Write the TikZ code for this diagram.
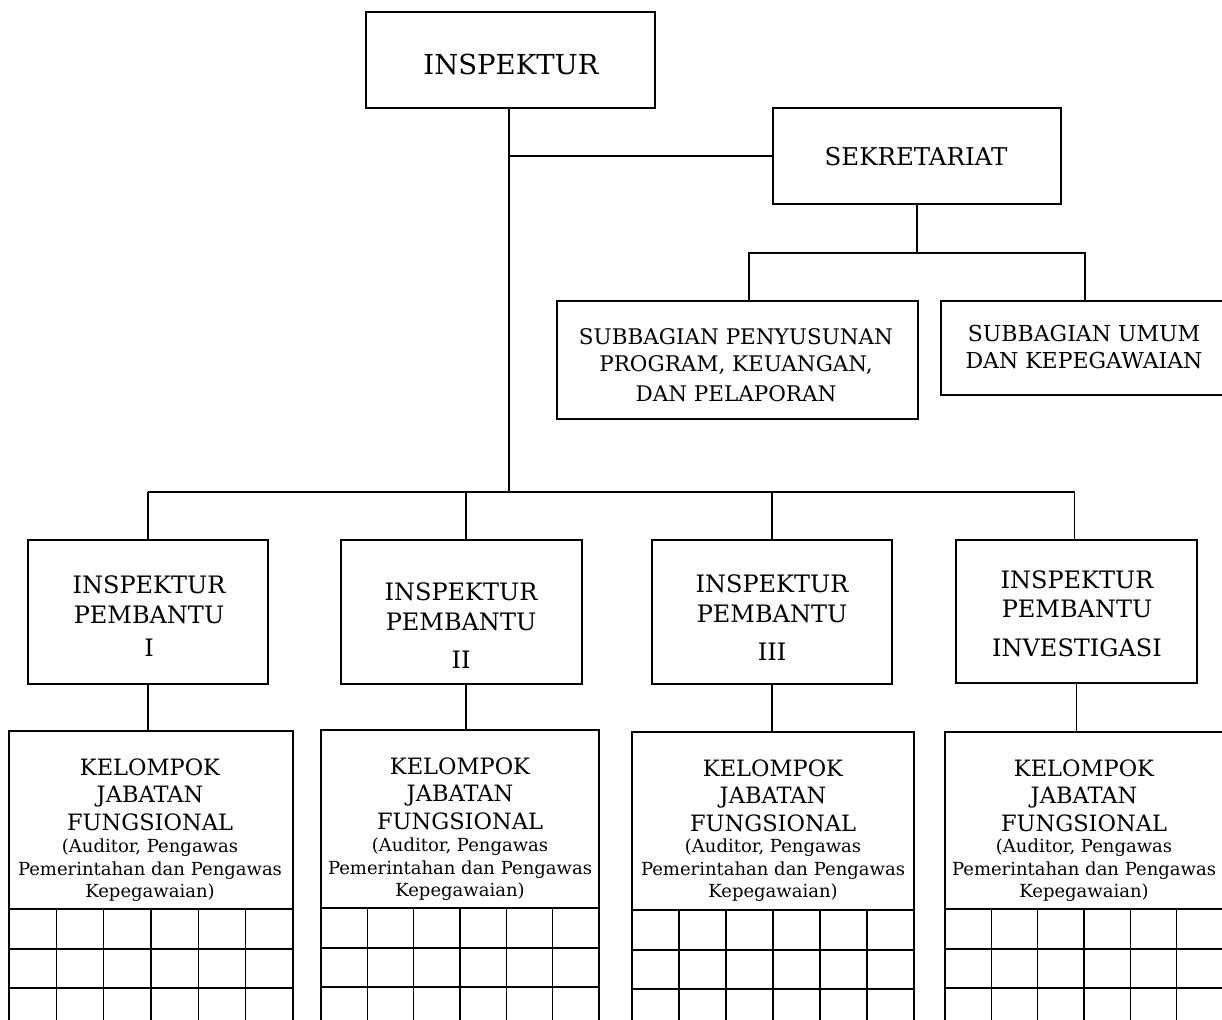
\documentclass[tikz,border=0pt]{standalone}
\usepackage{fontspec}
\setmainfont{DejaVu Serif}
\usetikzlibrary{calc}
\begin{document}
\begin{tikzpicture}[x=1pt,y=-1pt,
  box/.style={draw, line width=1.6pt, rectangle, inner sep=0pt, outer sep=0pt, anchor=north west},
  lbl/.style={inner sep=0pt, outer sep=0pt, anchor=north, align=center},
  conn/.style={line width=1.6pt},
  bigfont/.style={font=\fontsize{24}{30}\selectfont},
  kbig/.style={font=\fontsize{22.5}{27.5}\selectfont},
  ksmall/.style={font=\fontsize{18}{22.5}\selectfont}]
\path[use as bounding box] (0,0) rectangle (1222,1019);
\clip (0,0) rectangle (1222,1019);

% boxes
\node[box, minimum width=289pt, minimum height=96pt] (insp) at (366,12) {};
\node[box, minimum width=288pt, minimum height=96pt] (sek) at (773,108) {};
\node[box, minimum width=361pt, minimum height=118pt] (sub1) at (557,301) {};
\node[box, minimum width=300pt, minimum height=94pt] (sub2) at (941,301) {};
\node[box, minimum width=240pt, minimum height=144pt] (ip1) at (28,540) {};
\node[box, minimum width=241pt, minimum height=144pt] (ip2) at (341,540) {};
\node[box, minimum width=240pt, minimum height=144pt] (ip3) at (652,540) {};
\node[box, minimum width=241pt, minimum height=143pt] (ip4) at (956,540) {};
\node[box, minimum width=284pt, minimum height=178pt] (k1) at (9,731) {};
\node[box, minimum width=278pt, minimum height=178pt] (k2) at (321,730) {};
\node[box, minimum width=282pt, minimum height=178pt] (k3) at (632,732) {};
\node[box, minimum width=278pt, minimum height=177pt] (k4) at (945,732) {};

% texts
\node[lbl, font=\fontsize{27.5}{34}\selectfont] (inspt) at (511,53.6) {INSPEKTUR};
\node[lbl, font=\fontsize{24.5}{30}\selectfont] (sekt) at (916,147.8) {SEKRETARIAT};
\node[lbl, font=\fontsize{21.5}{26.5}\selectfont] (sub1t) at (736,329) {SUBBAGIAN PENYUSUNAN\\PROGRAM, KEUANGAN,\\[3.5pt]DAN PELAPORAN};
\node[lbl, font=\fontsize{22}{27}\selectfont] (sub2t) at (1084,324.7) {SUBBAGIAN UMUM\\DAN KEPEGAWAIAN};

\node[lbl, bigfont] (ip1t) at (149,575.2) {INSPEKTUR\\PEMBANTU\\[3pt]I};
\node[lbl, bigfont] (ip2t) at (461,582.2) {INSPEKTUR\\PEMBANTU\\[8pt]II};
\node[lbl, bigfont] (ip3t) at (772,574.2) {INSPEKTUR\\PEMBANTU\\[8pt]III};
\node[lbl, bigfont] (ip4t) at (1077,570.2) {INSPEKTUR\\[-1pt]PEMBANTU\\[9pt]INVESTIGASI};

\node[lbl, kbig] (k1a) at (150,758.5) {KELOMPOK\\JABATAN\\FUNGSIONAL};
\node[lbl, ksmall] (k1b) at (150,839) {(Auditor, Pengawas\\Pemerintahan dan Pengawas\\Kepegawaian)};
\node[lbl, kbig] (k2a) at (460,757.5) {KELOMPOK\\JABATAN\\FUNGSIONAL};
\node[lbl, ksmall] (k2b) at (460,838) {(Auditor, Pengawas\\Pemerintahan dan Pengawas\\Kepegawaian)};
\node[lbl, kbig] (k3a) at (773,759.5) {KELOMPOK\\JABATAN\\FUNGSIONAL};
\node[lbl, ksmall] (k3b) at (773,839) {(Auditor, Pengawas\\Pemerintahan dan Pengawas\\Kepegawaian)};
\node[lbl, kbig] (k4a) at (1084,759.5) {KELOMPOK\\JABATAN\\FUNGSIONAL};
\node[lbl, ksmall] (k4b) at (1084,839) {(Auditor, Pengawas\\Pemerintahan dan Pengawas\\Kepegawaian)};

% connectors
\coordinate (hb) at (0,492);
\coordinate (sb) at (0,253);
\draw[conn] ([xshift=-1.5pt]insp.south) -- ([xshift=-1.5pt]insp.south |- hb);
\draw[conn] ([xshift=-1.5pt]insp.south |- sek.west) -- (sek.west);
\draw[conn] (ip1.north |- hb) -- ([xshift=-2pt]ip4.north |- hb);
\draw[conn] (ip1.north |- hb) -- (ip1.north);
\draw[conn] ([xshift=4.5pt]ip2.north |- hb) -- ([xshift=4.5pt]ip2.north);
\draw[conn] (ip3.north |- hb) -- (ip3.north);
\draw[conn] ([xshift=-2pt]ip4.north |- hb) -- ([xshift=-2pt]ip4.north);
\draw[conn] (ip1.south) -- (ip1.south |- k1.north);
\draw[conn] ([xshift=4.5pt]ip2.south) -- ([xshift=4.5pt]ip2.south |- k2.north);
\draw[conn] (ip3.south) -- (ip3.south |- k3.north);
\draw[conn] (ip4.south) -- (ip4.south |- k4.north);
\draw[conn] (sek.south) -- (sek.south |- sb);
\draw[conn] ([xshift=11.5pt]sub1.north) -- ([xshift=11.5pt]sub1.north |- sb) -- ([xshift=-6pt]sub2.north |- sb) -- ([xshift=-6pt]sub2.north);

% grids under the groups
\foreach \k in {k1,k2,k3,k4}{
  \draw[conn] (\k.south west) -- ++(0,130);
  \draw[conn] (\k.south east) -- ++(0,130);
  \foreach \i in {1,...,5}
    \draw[conn] ($(\k.south west)!\i/6!(\k.south east)$) -- ++(0,130);
  \draw[conn] ([yshift=-40pt]\k.south west) -- ([yshift=-40pt]\k.south east);
  \draw[conn] ([yshift=-79pt]\k.south west) -- ([yshift=-79pt]\k.south east);
}
\end{tikzpicture}
\end{document}
